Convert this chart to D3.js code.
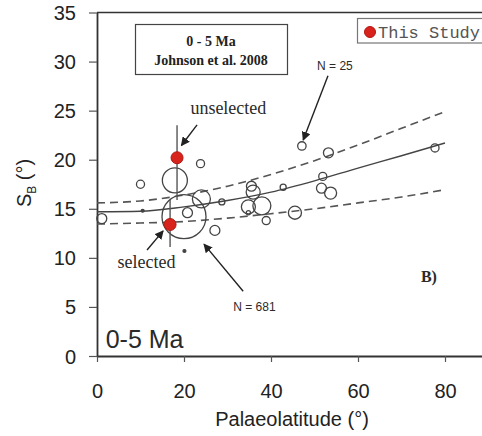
<!DOCTYPE html>
<html>
<head>
<meta charset="utf-8">
<script src="https://cdn.jsdelivr.net/npm/d3@7"></script>
<style>
  html, body { margin: 0; padding: 0; background: #fff; overflow: hidden; }
  svg { display: block; }
</style>
</head>
<body>
<svg id="chart" width="482" height="436"></svg>
<script>
// Palaeosecular variation: angular dispersion S_B against palaeolatitude, 0-5 Ma

// Compiled site means (Johnson et al. 2008): palaeolatitude, S_B, number of sites N
const compLat = [1.1, 10.0, 17.9, 20.0, 20.8, 24.0, 23.8, 27.1, 28.7, 20.1, 10.5,
                 35.5, 35.9, 34.8, 37.9, 34.8, 38.9, 42.8, 45.5,
                 47.1, 53.2, 51.9, 51.6, 53.7, 77.7];
const compSB  = [14.0, 17.5, 17.9, 14.2, 14.6, 16.0, 19.6, 12.8, 15.7, 10.7, 14.8,
                 17.3, 16.7, 15.2, 15.3, 14.6, 13.8, 17.2, 14.6,
                 21.4, 20.7, 18.3, 17.1, 16.6, 21.2];
const compN   = [35, 23, 220, 681, 35, 114, 23, 35, 13, 3, 3,
                 35, 69, 69, 114, 6, 23, 13, 60,
                 25, 35, 23, 35, 51, 23];

// This study: unselected and selected estimates with their confidence limits
const studyLabel = ["unselected", "selected"];
const studyLat   = [18.4, 16.8];
const studySB    = [20.2, 13.4];
const studyLow   = [15.9, 11.1];
const studyHigh  = [23.5, 15.9];

// Model fit (solid) with its confidence envelope (dashed), sampled along latitude
const curveLat   = [0, 10, 20, 30, 40, 50, 60, 70, 80];
const fitSB      = [14.7, 14.75, 15.2, 15.85, 16.7, 17.85, 19.15, 20.4, 21.7];
const upperSB    = [15.6, 15.8, 16.4, 17.3, 18.5, 19.9, 21.5, 23.2, 24.9];
const lowerSB    = [13.45, 13.55, 13.7, 14.05, 14.5, 15.0, 15.6, 16.2, 16.95];

// Axis ticks
const xTicks = [0, 20, 40, 60, 80];
const yTicks = [0, 5, 10, 15, 20, 25, 30, 35];

const svg = d3.select("#chart");
const sans = "'Liberation Sans', Arial, sans-serif";
const serif = "'Liberation Serif', 'Times New Roman', serif";
const mono = "'Liberation Mono', 'Courier New', monospace";
const ink = "#333";

const x = d3.scaleLinear().domain([0, 90]).range([97, 488.5]);
const y = d3.scaleLinear().domain([0, 35]).range([356, 12.5]);
const r = d3.scaleSqrt().domain([0, 681]).range([0, 22]);

// Top edge of the frame
svg.append("line")
  .attr("x1", x(0)).attr("x2", x(90)).attr("y1", y(35)).attr("y2", y(35))
  .attr("stroke", ink).attr("stroke-width", 1.6);

// Axes
const xAxis = svg.append("g").attr("transform", `translate(0,${y(0)})`)
  .call(d3.axisBottom(x).tickValues(xTicks).tickSize(6).tickPadding(22).tickSizeOuter(0));
const yAxis = svg.append("g").attr("transform", `translate(${x(0)},0)`)
  .call(d3.axisLeft(y).tickValues(yTicks).tickSize(8).tickPadding(13).tickSizeOuter(0));
[xAxis, yAxis].forEach(g => {
  g.select(".domain").attr("stroke", ink).attr("stroke-width", 1.8);
  g.selectAll(".tick line").attr("stroke", "#555").attr("stroke-width", 1.2);
  g.selectAll(".tick text").attr("font-family", sans).attr("font-size", 20).attr("fill", "#222");
});
yAxis.selectAll(".tick text").attr("dy", "0.35em");

// Axis titles
svg.append("text")
  .attr("x", 292).attr("y", 426)
  .attr("text-anchor", "middle")
  .attr("font-family", sans).attr("font-size", 20).attr("fill", "#222")
  .text("Palaeolatitude (°)");
const yTitle = svg.append("text")
  .attr("transform", "translate(31,183) rotate(-90)")
  .attr("text-anchor", "middle")
  .attr("font-family", sans).attr("font-size", 20).attr("fill", "#222");
yTitle.append("tspan").text("S");
yTitle.append("tspan").attr("font-size", 12).attr("dy", 5).text("B");
yTitle.append("tspan").attr("dy", -5).text(" (°)");

// Model curves
const line = d3.line().x(d => x(d[0])).y(d => y(d[1])).curve(d3.curveMonotoneX);
const pairs = vals => curveLat.map((lat, i) => [lat, vals[i]]);
svg.append("path").datum(pairs(fitSB)).attr("d", line)
  .attr("fill", "none").attr("stroke", "#444").attr("stroke-width", 1.4);
[upperSB, lowerSB].forEach(vals => {
  svg.append("path").datum(pairs(vals)).attr("d", line)
    .attr("fill", "none").attr("stroke", "#555").attr("stroke-width", 1.6)
    .attr("stroke-dasharray", "8,5");
});

// Compiled data: open circles sized by N
const comp = compLat.map((lat, i) => ({ lat, sb: compSB[i], n: compN[i] }));
svg.append("g").selectAll("circle").data(comp).join("circle")
  .attr("cx", d => x(d.lat)).attr("cy", d => y(d.sb))
  .attr("r", d => Math.max(1.2, r(d.n)))
  .attr("fill", d => d.n < 5 ? "#444" : "none")
  .attr("stroke", "#444").attr("stroke-width", 1.3);

// This study: confidence limits and red points
const study = studyLat.map((lat, i) => ({
  label: studyLabel[i], lat, sb: studySB[i], lo: studyLow[i], hi: studyHigh[i]
}));
svg.append("g").selectAll("line").data(study).join("line")
  .attr("x1", d => x(d.lat)).attr("x2", d => x(d.lat))
  .attr("y1", d => y(d.lo)).attr("y2", d => y(d.hi))
  .attr("stroke", "#555").attr("stroke-width", 1.4);
svg.append("g").selectAll("circle").data(study).join("circle")
  .attr("cx", d => x(d.lat)).attr("cy", d => y(d.sb)).attr("r", 6)
  .attr("fill", "#d8231d").attr("stroke", "#b01812").attr("stroke-width", 1);

// Arrow heads
const defs = svg.append("defs");
defs.append("marker").attr("id", "head")
  .attr("viewBox", "0 0 10 10").attr("refX", 9).attr("refY", 5)
  .attr("markerWidth", 9).attr("markerHeight", 9).attr("markerUnits", "userSpaceOnUse")
  .attr("orient", "auto")
  .append("path").attr("d", "M0,0L10,5L0,10Z").attr("fill", "#222");

// Annotation arrows and labels (data coordinates)
const arrows = [
  { from: [23.0, 23.55], to: [19.4, 21.45] },
  { from: [11.5, 10.8],  to: [15.2, 12.75] },
  { from: [33.6, 6.6],   to: [24.6, 11.4] },
  { from: [53.1, 28.55], to: [47.4, 22.0] }
];
svg.append("g").selectAll("line").data(arrows).join("line")
  .attr("x1", d => x(d.from[0])).attr("y1", d => y(d.from[1]))
  .attr("x2", d => x(d.to[0])).attr("y2", d => y(d.to[1]))
  .attr("stroke", "#222").attr("stroke-width", 1.4)
  .attr("marker-end", "url(#head)");

const notes = [
  { text: "unselected", at: [30.2, 24.65], font: serif, size: 18, weight: "normal", anchor: "middle" },
  { text: "selected",   at: [11.4, 8.95],  font: serif, size: 18, weight: "normal", anchor: "middle" },
  { text: "N = 681",    at: [36.2, 4.6],   font: sans,  size: 12, weight: "normal", anchor: "middle" },
  { text: "N = 25",     at: [54.7, 29.1],  font: sans,  size: 12, weight: "normal", anchor: "middle" },
  { text: "B)",         at: [76.3, 7.5],   font: serif, size: 16, weight: "bold",   anchor: "middle" },
  { text: "0-5 Ma",     at: [2.0, 0.82],   font: sans,  size: 25, weight: "normal", anchor: "start" }
];
svg.append("g").selectAll("text").data(notes).join("text")
  .attr("x", d => x(d.at[0])).attr("y", d => y(d.at[1]))
  .attr("text-anchor", d => d.anchor)
  .attr("font-family", d => d.font).attr("font-size", d => d.size)
  .attr("font-weight", d => d.weight).attr("fill", "#2a2a2a")
  .text(d => d.text);

// Title box
const tb = svg.append("g");
tb.append("rect").attr("x", 135.5).attr("y", 24.5).attr("width", 152).attr("height", 50)
  .attr("fill", "#fff").attr("stroke", "#444").attr("stroke-width", 1.2);
tb.append("text").attr("x", 211).attr("y", 46).attr("text-anchor", "middle")
  .attr("font-family", serif).attr("font-weight", "bold").attr("font-size", 14).attr("fill", "#222")
  .text("0 - 5 Ma");
tb.append("text").attr("x", 211).attr("y", 65).attr("text-anchor", "middle")
  .attr("font-family", serif).attr("font-weight", "bold").attr("font-size", 14).attr("fill", "#222")
  .text("Johnson et al. 2008");

// Legend
const lg = svg.append("g");
lg.append("rect").attr("x", 357.5).attr("y", 18.5).attr("width", 160).attr("height", 24.5)
  .attr("fill", "#fff").attr("stroke", "#777").attr("stroke-width", 1.2);
lg.append("circle").attr("cx", 370).attr("cy", 32).attr("r", 5.5)
  .attr("fill", "#d8231d").attr("stroke", "#b01812");
lg.append("text").attr("x", 378).attr("y", 38)
  .attr("font-family", mono).attr("font-size", 17).attr("fill", "#555")
  .text("This Study");
</script>
</body>
</html>
